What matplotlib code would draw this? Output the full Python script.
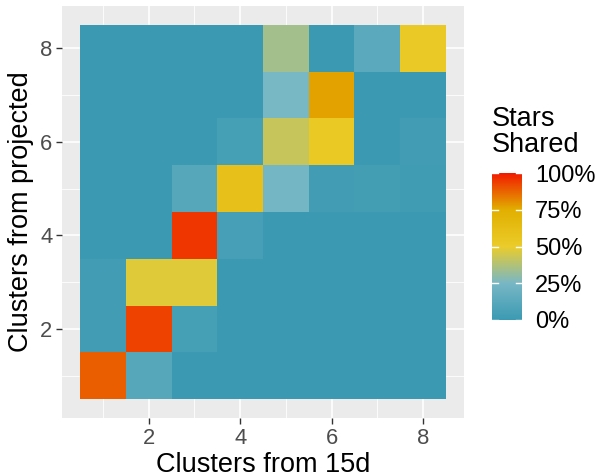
import numpy as np
import matplotlib
matplotlib.use("Agg")
import matplotlib.pyplot as plt
from matplotlib.colors import LinearSegmentedColormap

# Fraction of stars shared between clusters (rows: projected cluster 1..8, cols: 15d cluster 1..8)
clusters_15d = [1, 2, 3, 4, 5, 6, 7, 8]
clusters_projected = [1, 2, 3, 4, 5, 6, 7, 8]
shared = [
    [0.885, 0.11, 0.00, 0.00, 0.00, 0.00, 0.00, 0.00],  # projected 1
    [0.03, 0.93, 0.04, 0.00, 0.00, 0.00, 0.00, 0.00],   # projected 2
    [0.03, 0.475, 0.475, 0.00, 0.00, 0.00, 0.00, 0.00], # projected 3
    [0.00, 0.00, 0.95, 0.05, 0.00, 0.00, 0.00, 0.00],   # projected 4
    [0.00, 0.00, 0.11, 0.60, 0.24, 0.03, 0.035, 0.02],  # projected 5
    [0.00, 0.00, 0.00, 0.04, 0.42, 0.53, 0.00, 0.03],   # projected 6
    [0.00, 0.00, 0.00, 0.00, 0.25, 0.77, 0.00, 0.00],   # projected 7
    [0.00, 0.00, 0.00, 0.00, 0.34, 0.00, 0.13, 0.52],   # projected 8
]
legend_ticks = [0, 0.25, 0.5, 0.75, 1.0]
legend_labels = ["0%", "25%", "50%", "75%", "100%"]
palette = ["#3B9AB2", "#78B7C5", "#EBCC2A", "#E1AF00", "#F21A00"]

plt.rcParams["font.family"] = ["Liberation Sans", "DejaVu Sans"]

cmap = LinearSegmentedColormap.from_list("zissou", palette)
Z = np.array(shared)
xs = np.array(clusters_15d)
ys = np.array(clusters_projected)
xe = np.concatenate([xs - 0.5, [xs[-1] + 0.5]])
ye = np.concatenate([ys - 0.5, [ys[-1] + 0.5]])

fig = plt.figure(figsize=(5.97, 4.76), dpi=100)
ax = fig.add_axes([62 / 597, 1 - 418 / 476, (464 - 62) / 597, (418 - 6) / 476])
ax.set_facecolor("#EBEBEB")

# grid: minor at odd values, major at even ones
for v in [1, 3, 5, 7]:
    ax.axvline(v, color="white", lw=0.6, zorder=0)
    ax.axhline(v, color="white", lw=0.6, zorder=0)
for v in [2, 4, 6, 8]:
    ax.axvline(v, color="white", lw=1.2, zorder=0)
    ax.axhline(v, color="white", lw=1.2, zorder=0)

mesh = ax.pcolormesh(xe, ye, Z, cmap=cmap, vmin=0, vmax=1, zorder=1)

ax.set_xlim(0.1, 8.9)
ax.set_ylim(0.1, 8.9)
ax.set_xticks([2, 4, 6, 8])
ax.set_yticks([2, 4, 6, 8])
ax.tick_params(axis="both", length=4, width=1.0, color="#333333",
               labelcolor="#4D4D4D", labelsize=15.8, pad=3)
for s in ax.spines.values():
    s.set_visible(False)
ax.set_xlabel("Clusters from 15d", fontsize=19.5, color="black", labelpad=2)
ax.set_ylabel("Clusters from projected", fontsize=19.5, color="black", labelpad=4)

# colour bar legend
cax = fig.add_axes([492 / 597, 1 - 320 / 476, 30 / 597, 147 / 476])
cb = fig.colorbar(mesh, cax=cax, ticks=legend_ticks)
cb.outline.set_visible(False)
cb.ax.tick_params(length=0, labelsize=17, labelcolor="black", pad=9.5)
cb.ax.set_yticklabels(legend_labels)
for t in legend_ticks:
    cax.plot([0, 0.2], [t, t], color="white", lw=1, transform=cax.get_yaxis_transform())
    cax.plot([0.8, 1.0], [t, t], color="white", lw=1, transform=cax.get_yaxis_transform())
fig.text(492 / 597, 1 - 106 / 476, "Stars\nShared", fontsize=19.5, va="top", ha="left",
         linespacing=1.0)

fig.savefig("out.png", dpi=100)
